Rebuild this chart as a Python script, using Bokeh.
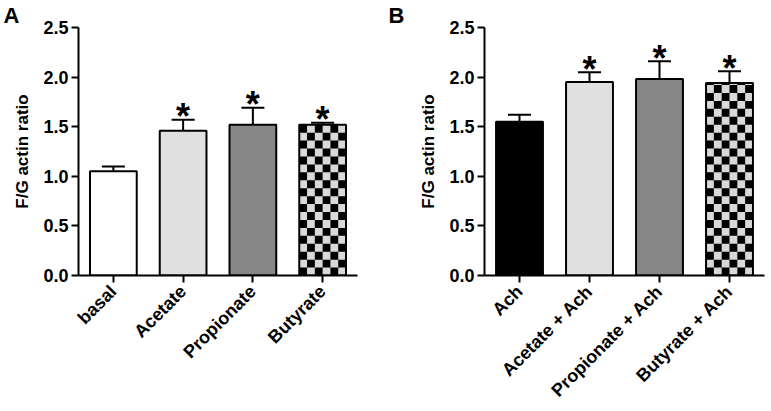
import math
from bokeh.plotting import figure
from bokeh.models import (ColumnDataSource, FactorRange, Range1d, FixedTicker, NumeralTickFormatter,
                          Whisker, TeeHead)
from bokeh.layouts import row
from bokeh.embed import file_html
from bokeh.resources import INLINE
from bokeh.core.properties import value

# ---- data ----
cats_a = ["basal", "Acetate", "Propionate", "Butyrate"]
means_a = [1.05, 1.46, 1.52, 1.52]
sem_a = [0.05, 0.11, 0.17, 0.02]
sig_a = ["", "*", "*", "*"]

cats_b = ["Ach", "Acetate + Ach", "Propionate + Ach", "Butyrate + Ach"]
means_b = [1.55, 1.95, 1.98, 1.94]
sem_b = [0.07, 0.10, 0.18, 0.12]
sig_b = ["", "*", "*", "*"]

fills_a = ["#ffffff", "#e0e0e0", "#878787", "checker"]
fills_b = ["#000000", "#e0e0e0", "#878787", "checker"]

y_ticks = [0.0, 0.5, 1.0, 1.5, 2.0, 2.5]
y_max = 2.5

FONT = "Liberation Sans"
BAR_W = 0.67
CHECK_COLS = 6
CHECK_H = 0.08
CHECK_LIGHT = "#d9d9d9"
FIG_H = 411
TOP_BORDER = 24
BOTTOM_BORDER = 136


def make_panel(cats, means, sem, sig, fills, letter, width, border_left, border_right, letter_dx):
    p = figure(x_range=FactorRange(*cats, range_padding=0, factor_padding=0),
               y_range=Range1d(0, y_max),
               width=width, height=FIG_H, output_backend="svg", toolbar_location=None,
               min_border_left=border_left, min_border_right=border_right,
               min_border_top=TOP_BORDER, min_border_bottom=BOTTOM_BORDER,
               title=letter)
    p.title.text_font = FONT
    p.title.text_font_style = "bold"
    p.title.text_font_size = "22px"
    p.title.text_color = "black"
    p.title.align = "left"
    p.title.offset = letter_dx
    p.title.standoff = 0
    p.outline_line_color = None
    p.xgrid.visible = False
    p.ygrid.visible = False
    p.background_fill_color = "white"

    bar_fill = [CHECK_LIGHT if f == "checker" else f for f in fills]
    src = ColumnDataSource(dict(x=cats, top=means, fill=bar_fill,
                                upper=[m + s for m, s in zip(means, sem)],
                                sig=sig))
    p.vbar(x="x", top="top", width=BAR_W, source=src, fill_color="fill", line_color=None)

    # checkerboard cells (black squares) for checker-patterned bars
    cx, cy, cw, ch = [], [], [], []
    for i, (m, f) in enumerate(zip(means, fills)):
        if f != "checker":
            continue
        left = i + 0.5 - BAR_W / 2
        colw = BAR_W / CHECK_COLS
        nrows = int(math.ceil(m / CHECK_H))
        for r in range(nrows):
            y0 = r * CHECK_H
            y1 = min(m, y0 + CHECK_H)
            for c in range(CHECK_COLS):
                if (r + c) % 2 == 0:
                    cx.append(left + (c + 0.5) * colw)
                    cy.append((y0 + y1) / 2)
                    cw.append(colw)
                    ch.append(y1 - y0)
    if cx:
        p.rect(x=cx, y=cy, width=cw, height=ch, fill_color="black", line_color=None)

    # bar outlines
    p.vbar(x="x", top="top", width=BAR_W, source=src, fill_alpha=0,
           line_color="black", line_width=2)

    w = Whisker(source=src, base="x", upper="upper", lower="top", dimension="height",
                line_color="black", line_width=2,
                upper_head=TeeHead(size=23, line_width=2, line_color="black"), lower_head=None)
    p.add_layout(w)

    p.text(x="x", y="upper", text="sig", source=src, text_align="center",
           text_baseline="alphabetic", text_font=value(FONT), text_font_style="bold",
           text_font_size="36px", y_offset=-3, text_color="black")

    # axes
    p.yaxis.ticker = FixedTicker(ticks=y_ticks)
    p.yaxis.formatter = NumeralTickFormatter(format="0.0")
    p.yaxis.axis_label = "F/G actin ratio"
    p.yaxis.axis_label_text_font = FONT
    p.yaxis.axis_label_text_font_style = "bold"
    p.yaxis.axis_label_text_font_size = "17px"
    p.yaxis.axis_label_text_color = "black"
    p.yaxis.axis_label_standoff = 8
    p.yaxis.minor_tick_line_color = None
    for ax in (p.xaxis, p.yaxis):
        ax.axis_line_width = 2
        ax.axis_line_color = "black"
        ax.major_tick_line_width = 2
        ax.major_tick_line_color = "black"
        ax.major_tick_out = 7
        ax.major_tick_in = 0
        ax.major_label_text_font = FONT
        ax.major_label_text_font_style = "bold"
        ax.major_label_text_color = "black"
        ax.major_label_standoff = 3
    p.yaxis.major_label_text_font_size = "18px"
    p.xaxis.major_label_text_font_size = "18px"
    p.xaxis.major_label_orientation = math.pi / 4
    p.xaxis.major_label_standoff = 6
    return p


pa = make_panel(cats_a, means_a, sem_a, sig_a, fills_a, "A", 380, 78, 23, -75)
pb = make_panel(cats_b, means_b, sem_b, sig_b, fills_b, "B", 391, 104, 7, -96)

layout = row(pa, pb)
open("out.html", "w").write(file_html(layout, INLINE))
